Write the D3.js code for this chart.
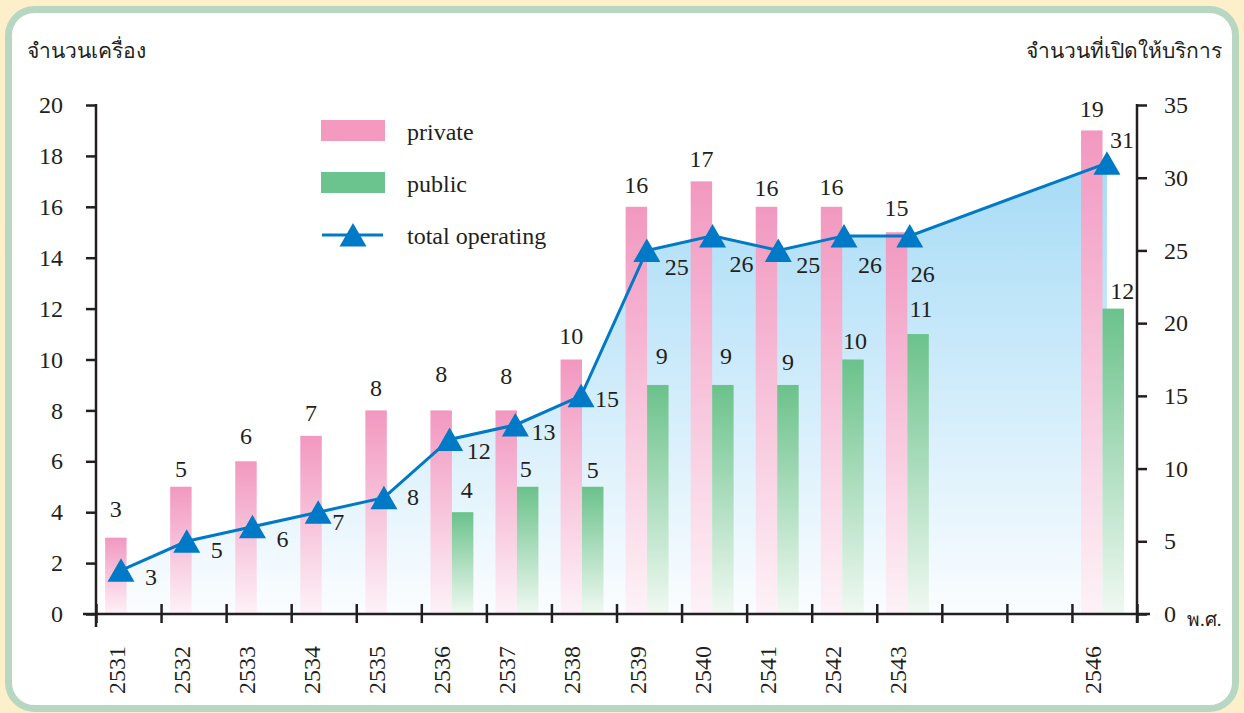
<!DOCTYPE html>
<html>
<head>
<meta charset="utf-8">
<script src="https://cdn.jsdelivr.net/npm/d3@7"></script>
<style>
  body { margin: 0; background: #fcefc9; }
  svg { display: block; }
</style>
</head>
<body>
<script>
const width = 1244, height = 713;
const serif = "'Liberation Serif', 'DejaVu Serif', serif";

// x slots run 2531..2546, 2544 and 2545 stay empty
const years = d3.range(2531, 2547);
const privYears = [2531, 2532, 2533, 2534, 2535, 2536, 2537, 2538, 2539, 2540, 2541, 2542, 2543, 2546];
const privVals = [3, 5, 6, 7, 8, 8, 8, 10, 16, 17, 16, 16, 15, 19];
const pubYears = [2536, 2537, 2538, 2539, 2540, 2541, 2542, 2543, 2546];
const pubVals = [4, 5, 5, 9, 9, 9, 10, 11, 12];
const totalVals = [3, 5, 6, 7, 8, 12, 13, 15, 25, 26, 25, 26, 26, 31];   // same years as privYears
const leftTicks = d3.range(0, 21, 2);
const rightTicks = d3.range(0, 36, 5);
const legendItems = ["private", "public", "total operating"];

// hand nudges for the value labels (gap above bar / offset from marker)
const privGap = [21, 10, 17, 15, 14, 28, 26, 16, 14, 14, 11, 12, 16, 13];
const pubGap = [14, 10, 9, 21, 21, 15, 11, 17, 10];
const pubDx = [4, -2, 0, 4, 3, 0, 2, 3, 9];
const totDx = [24, 24, 24, 14, 23, 17, 16, 14, 18, 17, 18, 14, 1, 3];
const totDy = [15, 17, 20, 18, 7, 20, 15, 11, 25, 36, 23, 37, 46, -15];

const svg = d3.select("body").append("svg")
    .attr("width", width)
    .attr("height", height)
    .attr("font-family", serif);

const defs = svg.append("defs");

function vGrad(id, top, bottom, user) {
    const g = defs.append("linearGradient").attr("id", id)
        .attr("x1", 0).attr("x2", 0).attr("y1", 0).attr("y2", 1);
    if (user) {
        g.attr("gradientUnits", "userSpaceOnUse")
            .attr("y1", user[0]).attr("y2", user[1]);
    }
    g.append("stop").attr("offset", 0).attr("stop-color", top);
    g.append("stop").attr("offset", 1).attr("stop-color", bottom);
}

// panel
svg.append("rect")
    .attr("x", 8.5).attr("y", 9.5)
    .attr("width", 1227).attr("height", 699)
    .attr("rx", 26)
    .attr("fill", "#fff")
    .attr("stroke", "#b8d7c3")
    .attr("stroke-width", 7);

const x = d3.scaleBand().domain(years).range([96, 1137]);
const bw = x.bandwidth();
const yL = d3.scaleLinear().domain([0, 20]).range([614, 105]);
const yR = d3.scaleLinear().domain([0, 35]).range([614, 105]);
// markers drift slightly across the slots in the original
const lineX = d3.scaleLinear().domain([2531, 2546]).range([x(2531) + 25, x(2546) + 35]);

vGrad("areaGrad", "#a6dbf6", "#fbfdff", [yR(31), yR(0)]);
vGrad("pinkGrad", "#f298c0", "#fdf2f7");
vGrad("greenGrad", "#6bc28b", "#f0f9f2");

const barW = bw * 0.33;
const pinkOff = bw * 0.14;
const greenOff = pinkOff + barW;

// area under total line
const area = d3.area()
    .x((d, i) => lineX(privYears[i]))
    .y0(yR(0))
    .y1(d => yR(d));

svg.append("path")
    .datum(totalVals)
    .attr("d", area)
    .attr("fill", "url(#areaGrad)");

// bars
svg.append("g").selectAll("rect")
    .data(privVals)
    .join("rect")
    .attr("x", (d, i) => x(privYears[i]) + pinkOff)
    .attr("y", d => yL(d))
    .attr("width", barW)
    .attr("height", d => yL(0) - yL(d))
    .attr("fill", "url(#pinkGrad)");

svg.append("g").selectAll("rect")
    .data(pubVals)
    .join("rect")
    .attr("x", (d, i) => x(pubYears[i]) + greenOff)
    .attr("y", d => yL(d))
    .attr("width", barW)
    .attr("height", d => yL(0) - yL(d))
    .attr("fill", "url(#greenGrad)");

// axes
const ink = "#231f20";

const gL = svg.append("g")
    .attr("transform", "translate(96,0)")
    .call(d3.axisLeft(yL).tickValues(leftTicks).tickSize(10).tickPadding(23).tickFormat(d3.format("d")));
const gR = svg.append("g")
    .attr("transform", "translate(1137,0)")
    .call(d3.axisRight(yR).tickValues(rightTicks).tickSize(10).tickPadding(17).tickFormat(d3.format("d")));

[gL, gR].forEach(g => {
    g.attr("font-family", serif).attr("font-size", 24);
    g.select(".domain").remove();
    g.selectAll(".tick line").attr("stroke", ink).attr("stroke-width", 2.5);
    g.selectAll(".tick text").attr("fill", ink);
});

const edge = d3.scaleLinear().domain([0, years.length]).range([96, 1137]);
const gX = svg.append("g")
    .attr("transform", "translate(0,614)")
    .call(d3.axisBottom(edge).tickValues(d3.range(years.length + 1)).tickFormat(""));
gX.select(".domain").remove();
gX.selectAll(".tick line").attr("y1", -10).attr("y2", 9).attr("stroke", ink).attr("stroke-width", 2.5);

svg.append("line").attr("x1", 83).attr("x2", 1150).attr("y1", 614).attr("y2", 614)
    .attr("stroke", ink).attr("stroke-width", 2.5);
svg.append("line").attr("x1", 96).attr("x2", 96).attr("y1", 104).attr("y2", 627)
    .attr("stroke", ink).attr("stroke-width", 2.5);
svg.append("line").attr("x1", 1137).attr("x2", 1137).attr("y1", 104).attr("y2", 623)
    .attr("stroke", ink).attr("stroke-width", 2.5);

const labels = svg.append("g").attr("font-family", serif).attr("font-size", 24).attr("fill", ink);

// year labels, rotated
labels.append("g").selectAll("text")
    .data(privYears)
    .join("text")
    .attr("transform", d => `translate(${x(d) + 29},646) rotate(-90)`)
    .attr("text-anchor", "end")
    .text(d => d);

// total line + markers
const line = d3.line()
    .x((d, i) => lineX(privYears[i]))
    .y(d => yR(d));

svg.append("path")
    .datum(totalVals)
    .attr("d", line)
    .attr("fill", "none")
    .attr("stroke", "#0079c6")
    .attr("stroke-width", 3);

const tri = "M0,-12L13.5,11.5L-13.5,11.5Z";
svg.append("g").selectAll("path")
    .data(totalVals)
    .join("path")
    .attr("d", tri)
    .attr("transform", (d, i) => `translate(${lineX(privYears[i])},${yR(d)})`)
    .attr("fill", "#0079c6");

// value labels
const vals = svg.append("g").attr("font-family", serif).attr("font-size", 24).attr("fill", ink);

vals.append("g").selectAll("text")
    .data(privVals)
    .join("text")
    .attr("x", (d, i) => x(privYears[i]) + pinkOff + barW / 2)
    .attr("y", (d, i) => yL(d) - privGap[i])
    .attr("text-anchor", "middle")
    .text(d => d);

vals.append("g").selectAll("text")
    .data(pubVals)
    .join("text")
    .attr("x", (d, i) => x(pubYears[i]) + greenOff + barW / 2 + pubDx[i])
    .attr("y", (d, i) => yL(d) - pubGap[i])
    .attr("text-anchor", "middle")
    .text(d => d);

vals.append("g").selectAll("text")
    .data(totalVals)
    .join("text")
    .attr("x", (d, i) => lineX(privYears[i]) + totDx[i])
    .attr("y", (d, i) => yR(d) + totDy[i])
    .text(d => d);

// titles
const titles = svg.append("g").attr("font-family", serif).attr("fill", ink);
titles.append("text").attr("x", 27).attr("y", 58).attr("font-size", 21).text("จำนวนเครื่อง");
titles.append("text").attr("x", 1222).attr("y", 58).attr("text-anchor", "end").attr("font-size", 21).text("จำนวนที่เปิดให้บริการ");
titles.append("text").attr("x", 1187).attr("y", 626).attr("font-size", 19).text("พ.ศ.");

// legend
const legend = svg.append("g").attr("font-family", serif).attr("fill", ink);
const legendY = [131, 183, 235];
legend.selectAll("rect")
    .data(legendItems.slice(0, 2))
    .join("rect")
    .attr("x", 321)
    .attr("y", (d, i) => legendY[i] - 11)
    .attr("width", 64)
    .attr("height", 21)
    .attr("fill", (d, i) => i === 0 ? "#f49ac1" : "#6bc48d");
legend.append("line")
    .attr("x1", 322).attr("x2", 383)
    .attr("y1", legendY[2]).attr("y2", legendY[2])
    .attr("stroke", "#0079c6").attr("stroke-width", 3);
legend.append("path")
    .attr("d", tri)
    .attr("transform", `translate(353,${legendY[2]})`)
    .attr("fill", "#0079c6");
legend.selectAll("text")
    .data(legendItems)
    .join("text")
    .attr("x", 407)
    .attr("y", (d, i) => legendY[i] + 9)
    .attr("font-size", 24)
    .text(d => d);
</script>
</body>
</html>
